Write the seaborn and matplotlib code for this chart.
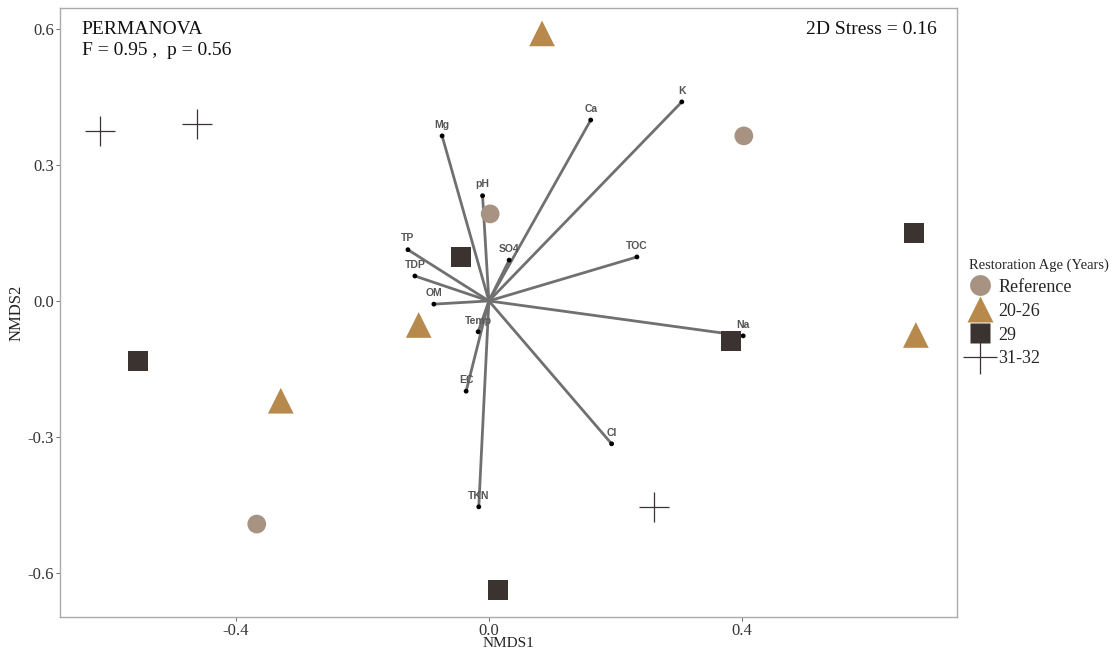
import numpy as np
import pandas as pd
import matplotlib
matplotlib.use("Agg")
import matplotlib.pyplot as plt
import seaborn as sns
from matplotlib.lines import Line2D

# Sample scores
groups = ["Reference", "Reference", "Reference",
          "20-26", "20-26", "20-26", "20-26",
          "29", "29", "29", "29", "29",
          "31-32", "31-32", "31-32"]
nmds1 = [0.002, 0.403, -0.367,
         0.084, -0.111, -0.329, 0.675,
         -0.044, 0.672, -0.555, 0.383, 0.014,
         -0.615, -0.462, 0.261]
nmds2 = [0.192, 0.364, -0.492,
         0.590, -0.053, -0.220, -0.075,
         0.097, 0.150, -0.132, -0.088, -0.638,
         0.375, 0.390, -0.454]

# Environmental vectors
env_vars = ["Mg", "pH", "Ca", "K", "TP", "TDP", "OM", "SO4", "TOC", "Na",
            "Temp", "EC", "Cl", "TKN"]
env_x = [-0.074, -0.010, 0.161, 0.305, -0.128, -0.117, -0.087, 0.032, 0.234,
         0.402, -0.017, -0.036, 0.194, -0.016]
env_y = [0.364, 0.232, 0.399, 0.439, 0.113, 0.055, -0.007, 0.090, 0.097,
         -0.077, -0.068, -0.199, -0.315, -0.454]

group_order = ["Reference", "20-26", "29", "31-32"]
palette = {"Reference": "#A89383", "20-26": "#B8894D", "29": "#3A3330", "31-32": "#3A3330"}
markers = {"Reference": "o", "20-26": "^", "29": "s", "31-32": "+"}
sizes_pt = {"Reference": 13.5, "20-26": 18.5, "29": 14.5, "31-32": 21}

x_ticks = [-0.4, 0.0, 0.4]
y_ticks = [-0.6, -0.3, 0.0, 0.3, 0.6]

df = pd.DataFrame({"NMDS1": nmds1, "NMDS2": nmds2, "group": groups})
env = pd.DataFrame({"var": env_vars, "x": env_x, "y": env_y})

sns.set_theme(style="white")
plt.rcParams["font.family"] = ["Liberation Serif", "DejaVu Serif"]

fig = plt.figure(figsize=(11.16, 6.51), dpi=100)
ax = fig.add_axes([0.0538, 0.0522, 0.8037, 0.9355])

# vectors
for _, r in env.iterrows():
    ax.plot([0, r["x"]], [0, r["y"]], color="#707070", lw=2, zorder=2, solid_capstyle="butt")
sns.scatterplot(data=env, x="x", y="y", color="black", s=12, edgecolor="none",
                ax=ax, zorder=3, legend=False)
for _, r in env.iterrows():
    ax.annotate(r["var"], (r["x"], r["y"]), xytext=(0, 4.5), textcoords="offset points",
                ha="center", va="bottom", fontsize=7.5, fontweight="bold",
                color="#555555", family=["Liberation Sans", "DejaVu Sans"], zorder=4)

# sample points
for g in group_order:
    sub = df[df["group"] == g]
    kw = dict(marker=markers[g], s=sizes_pt[g] ** 2, color=palette[g], ax=ax,
              zorder=5, legend=False)
    if g == "31-32":
        kw.update(linewidth=0.9)
    else:
        kw.update(edgecolor="none")
    sns.scatterplot(data=sub, x="NMDS1", y="NMDS2", **kw)

ax.set_xlim(-0.678, 0.740)
ax.set_ylim(-0.697, 0.646)
ax.set_xticks(x_ticks)
ax.set_xticklabels([f"{v:.1f}" for v in x_ticks])
ax.set_yticks(y_ticks)
ax.set_yticklabels([f"{v:.1f}" for v in y_ticks])
ax.tick_params(axis="both", which="both", direction="out", length=3, width=0.6,
               color="#555555", labelsize=12, labelcolor="#333333", pad=1.5,
               bottom=True, left=True)
ax.set_xlabel("NMDS1", fontsize=11, labelpad=-1.5, color="#222222")
ax.set_ylabel("NMDS2", fontsize=12, labelpad=2, color="#222222")
for s in ax.spines.values():
    s.set_color("#AAAAAA")
    s.set_linewidth(1.0)

ax.text(0.024, 0.979, "PERMANOVA\nF = 0.95 ,  p = 0.56", transform=ax.transAxes,
        ha="left", va="top", fontsize=14, color="#111111", linespacing=1.3)
ax.text(0.978, 0.979, "2D Stress = 0.16", transform=ax.transAxes,
        ha="right", va="top", fontsize=14, color="#111111")

handles = []
for g in group_order:
    if g == "31-32":
        h = Line2D([], [], marker="+", linestyle="none", color=palette[g],
                   markersize=24, markeredgewidth=0.9)
    else:
        h = Line2D([], [], marker=markers[g], linestyle="none", color=palette[g],
                   markeredgecolor="none", markersize={"o": 15, "^": 19, "s": 15}[markers[g]])
    handles.append(h)
leg = fig.legend(handles, group_order, title="Restoration Age (Years)",
                 loc="upper left", bbox_to_anchor=(0.868, 0.603), frameon=False,
                 fontsize=13, title_fontsize=10.5, handlelength=1.2,
                 handletextpad=0.45, labelspacing=0.38, borderaxespad=0,
                 borderpad=0)
leg._legend_box.align = "left"

fig.savefig("out.png", dpi=100)
